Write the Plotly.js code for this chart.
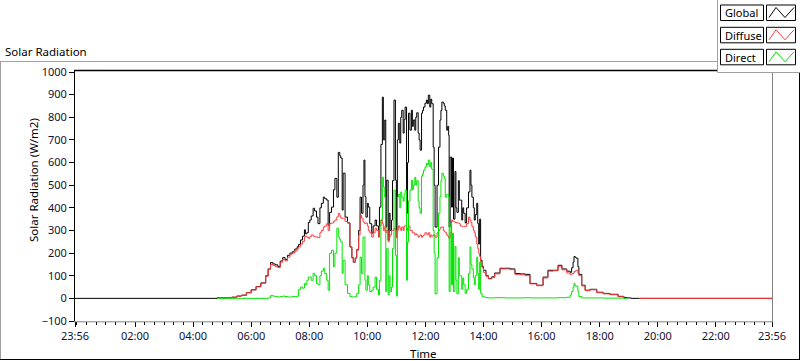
<!DOCTYPE html>
<html>
<head>
<meta charset="utf-8">
<script src="https://cdn.plot.ly/plotly-3.0.1.min.js"></script>
<style>
html,body{margin:0;padding:0;background:#fff;}
#chart{width:800px;height:361px;}
</style>
</head>
<body>
<div id="chart"></div>
<script>
// time in minutes from midnight (first point = 23:56 of previous day)
const timeMin = [-4,285,290,320,330,340,350,360,370,380,390,395,400,405,410,415,420,425,430,435,440,445,450,455,458,462,466,470,472,475,478,481,484,488,491,495,498,502,505,509,512,516,519,522,526,530,533,537,540,543,545,548,550,554,559,564,568,571,575,578,582,585,588,591,593,595,597,600,602,605,609,612,616,619,623,625,628,631,633,636,638,640,643,645,647,650,652,655,658,660,662,664,667,669,671,674,676,678,681,683,685,688,691,693,695,698,700,702,705,707,709,712,714,716,719,722,724,726,729,731,733,736,738,740,744,747,750,752,754,757,759,761,764,766,768,769,771,774,776,778,781,783,785,788,790,792,795,797,799,802,805,809,812,814,816,819,821,823,826,828,830,832,834,837,840,845,850,857,863,874,885,895,905,915,926,936,950,963,973,984,994,1002,1012,1019,1022,1025,1027,1029,1031,1033,1035,1037,1043,1050,1060,1074,1087,1101,1118,1130,1136,1145,1162,1436];

const globalW = [0,0,3,5,10,14,25,38,52,68,100,130,158,152,148,140,165,180,172,190,200,206,218,228,238,258,275,303,285,290,335,346,364,398,386,359,330,400,420,447,440,434,323,380,403,480,530,447,645,630,620,390,553,359,333,227,180,160,178,215,300,447,376,500,611,450,359,420,403,330,288,320,346,320,271,403,680,889,700,788,315,522,257,376,300,346,520,876,522,271,700,773,686,800,831,730,790,845,376,600,818,743,831,760,788,743,800,820,730,700,655,818,830,845,862,876,860,898,845,880,860,668,500,315,500,668,788,830,867,862,850,831,743,760,720,315,624,403,620,350,560,400,380,520,434,434,346,400,376,333,400,470,566,500,447,400,346,370,420,330,240,350,168,140,124,100,88,95,112,133,133,130,110,108,106,66,58,94,124,124,146,130,120,115,135,160,185,182,178,177,140,106,58,36,40,27,22,18,9,4,2,0,0,0];

const diffuseW = [null,null,3,5,10,14,25,37,51,67,98,128,150,145,140,136,160,172,166,182,195,200,210,220,228,240,252,271,275,270,265,272,280,275,272,271,268,290,300,315,320,330,300,330,333,340,346,360,376,365,354,354,354,340,333,227,178,160,178,213,280,368,355,340,333,330,333,320,300,290,271,290,310,300,271,320,346,330,300,318,290,300,250,271,280,300,300,310,300,268,300,320,310,300,315,300,320,320,300,310,320,300,300,290,290,280,285,280,270,275,280,270,275,280,290,285,280,290,270,280,275,280,280,270,290,300,310,315,315,300,295,290,280,275,266,266,290,346,340,340,335,335,333,333,330,320,318,318,318,318,330,359,345,335,318,300,290,271,240,220,199,185,160,135,115,98,86,92,108,130,130,127,106,104,100,64,56,90,120,122,142,126,112,105,108,110,118,120,124,124,110,100,55,34,38,25,20,16,7,2,null,null,0,0];

const directW = [null,null,0,0,0,0,0,0,0,0,0,2,12,10,8,6,8,10,8,6,6,8,8,10,40,50,45,66,60,80,94,94,80,110,100,66,60,100,120,133,110,80,36,199,213,140,200,310,271,260,250,110,168,60,22,8,6,6,8,22,60,182,110,271,271,80,36,100,60,30,36,50,94,40,15,80,346,535,491,447,30,220,15,100,30,50,220,478,190,10,447,460,400,470,447,430,460,478,80,250,430,478,522,480,500,535,500,520,430,400,376,540,550,566,580,597,590,611,580,600,570,300,200,20,180,376,450,520,553,540,530,447,460,460,447,30,330,60,288,30,230,80,20,180,100,100,40,90,60,22,40,110,227,150,130,90,60,100,182,110,40,160,22,8,6,3,2,2,3,3,2,2,2,2,3,2,2,2,2,2,3,3,5,15,30,50,66,55,55,53,30,8,2,2,2,2,1,1,1,0,0,null,null,null];

const seriesNames = ["Global","Diffuse","Direct"];
const seriesColors = ["#000000","#ff3b3b","#00e600"];
const xTickVals = [-4,120,240,360,480,600,720,840,960,1080,1200,1320,1436];
const xTickText = ["23:56","02:00","04:00","06:00","08:00","10:00","12:00","14:00","16:00","18:00","20:00","22:00","23:56"];

const L=75, T=72, W=697, H=249;
const fx = p => (p - L) / W;
const fy = p => (T + H - p) / H;
const FONT = "Noto Sans";

const ys = [globalW, diffuseW, directW];
const traces = ys.map((y,i)=>({
  x: timeMin, y: y, type:'scatter', mode:'lines', name: seriesNames[i], connectgaps:false,
  line:{color:seriesColors[i], width:1, shape:'hv'}, hoverinfo:'skip'
}));

function hline(x0,x1,y,color,w){return {type:'line',xref:'paper',yref:'paper',x0:fx(x0),x1:fx(x1),y0:fy(y),y1:fy(y),line:{color:color,width:w||1},layer:'above'};}
function vline(x,y0,y1,color,w){return {type:'line',xref:'paper',yref:'paper',x0:fx(x),x1:fx(x),y0:fy(y0),y1:fy(y1),line:{color:color,width:w||1},layer:'above'};}
function rect(x0,y0,x1,y1,color,fill){return {type:'rect',xref:'paper',yref:'paper',x0:fx(x0),x1:fx(x1),y0:fy(y0),y1:fy(y1),line:{color:color,width:1},fillcolor:fill||'rgba(0,0,0,0)',layer:'above'};}

const shapes = [
  // outer panel frame
  hline(0,717,61.5,'#a0a0a0'),
  vline(0.5,61,360,'#a0a0a0'),
  hline(0,800,359.5,'#000000'),
  vline(799.5,72,360,'#000000'),
  // plot frame
  hline(74,717,70.5,'#000000',1.5),
  vline(74.5,70,321.5,'#000000'),
  vline(772.5,72,322,'#808080'),
  hline(74,773,321.8,'#808080'),
  // legend panel
  rect(717.5,-1,801,72.5,'#a0a0a0','#ffffff')
];
const annotations = [];
const rowTop = [5,27.3,49.3];
seriesNames.forEach((n,i)=>{
  const y0 = rowTop[i], y1 = y0+15.5;
  shapes.push(rect(720.5,y0,763.5,y1,'#000000','#ffffff'));
  shapes.push(rect(766.5,y0,795.5,y1,'#000000','#ffffff'));
  const a=[769,y1-3], b=[776,y0+2.5], c=[785,y1-3], d=[794,y0+2.5];
  shapes.push({type:'path',xref:'paper',yref:'paper',layer:'above',
    path:`M ${fx(a[0])} ${fy(a[1])} L ${fx(b[0])} ${fy(b[1])} L ${fx(c[0])} ${fy(c[1])} L ${fx(d[0])} ${fy(d[1])}`,
    line:{color:seriesColors[i],width:1}});
  annotations.push({xref:'paper',yref:'paper',x:fx(723),y:fy((y0+y1)/2),xanchor:'left',yanchor:'middle',
    text:n,showarrow:false,font:{family:FONT,size:11,color:'#000'}});
});
annotations.push({xref:'paper',yref:'paper',x:fx(3),y:fy(51),xanchor:'left',yanchor:'middle',
  text:'Solar Radiation',showarrow:false,font:{family:FONT,size:11.5,color:'#000'}});
annotations.push({xref:'paper',yref:'paper',x:fx(33),y:fy(180),xanchor:'center',yanchor:'middle',textangle:-90,
  text:'Solar Radiation (W/m2)',showarrow:false,font:{family:FONT,size:11.5,color:'#000'}});
annotations.push({xref:'paper',yref:'paper',x:fx(423.5),y:fy(353),xanchor:'center',yanchor:'middle',
  text:'Time',showarrow:false,font:{family:FONT,size:11.5,color:'#000'}});

const layout = {
  width:800, height:361,
  margin:{l:L, r:800-L-W, t:T, b:361-T-H, pad:0},
  paper_bgcolor:'#ffffff', plot_bgcolor:'#ffffff',
  showlegend:false,
  font:{family:FONT,size:11,color:'#101030'},
  xaxis:{range:[-4,1436], tickmode:'array', tickvals:xTickVals, ticktext:xTickText,
    ticks:'outside', ticklen:5, tickwidth:1, tickcolor:'#000', showgrid:false, zeroline:false, showline:false,
    minor:{tickmode:'linear', tick0:0, dtick:20, ticks:'outside', ticklen:3, tickcolor:'#000', showgrid:false},
    tickfont:{family:FONT,size:11,color:'#101030'}, fixedrange:true},
  yaxis:{range:[-100,1000], tickmode:'linear', tick0:-100, dtick:100,
    ticks:'outside', ticklen:5, tickwidth:1, tickcolor:'#000', showgrid:false, zeroline:false, showline:false,
    tickfont:{family:FONT,size:11,color:'#101030'}, fixedrange:true},
  shapes:shapes, annotations:annotations
};
Plotly.newPlot('chart', traces, layout, {displayModeBar:false, staticPlot:true});
</script>
</body>
</html>
